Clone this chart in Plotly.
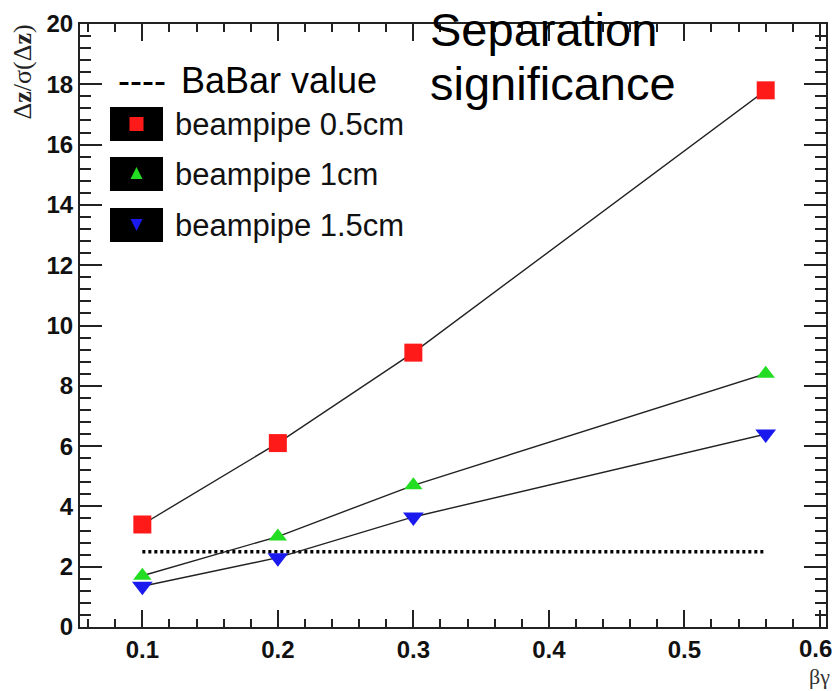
import plotly.graph_objects as go

# beta*gamma values and separation significance for each beampipe radius
beta_gamma = [0.1, 0.2, 0.3, 0.56]
sig_05cm = [3.4, 6.1, 9.1, 17.8]
sig_1cm = [1.7, 3.0, 4.7, 8.4]
sig_15cm = [1.35, 2.3, 3.65, 6.4]

# reference level
babar_x = [0.1, 0.56]
babar_value = [2.5, 2.5]

# x tick positions and labels (the last one is drawn separately so it stays inside the page)
x_tickvals = [0.1, 0.2, 0.3, 0.4, 0.5, 0.6]
x_ticktext = ["0.1", "0.2", "0.3", "0.4", "0.5", ""]
x_last_label = "0.6"

series_names = ["beampipe 0.5cm", "beampipe 1cm", "beampipe 1.5cm"]
series_colors = ["#ff1a1a", "#22dd22", "#1a1aee"]
series_symbols = ["square", "triangle-up", "triangle-down"]

W, H = 834, 691
L, R, T, B = 80, 826, 24, 627  # plot area edges in pixels


def px(x):
    return (x - L) / (R - L)


def py(y):
    return (B - y) / (B - T)


fig = go.Figure()

fig.add_trace(go.Scatter(
    x=babar_x, y=babar_value, mode="lines",
    line=dict(color="black", width=3.5, dash="3px,3px"),
    showlegend=False, hoverinfo="skip"))

for name, ys, col, sym, size in zip(series_names, [sig_05cm, sig_1cm, sig_15cm],
                                    series_colors, series_symbols, [18, 16, 18]):
    fig.add_trace(go.Scatter(
        x=beta_gamma, y=ys, mode="lines+markers", name=name,
        line=dict(color="#222222", width=1.4),
        marker=dict(symbol=sym, size=size, color=col, line=dict(width=0)),
        showlegend=False))

axis_font = dict(family="Liberation Sans", size=24, color="#111111", weight="bold")

fig.update_xaxes(
    range=[0.054, 0.6045], tickmode="array", tickvals=x_tickvals, ticktext=x_ticktext,
    ticks="inside", ticklen=17, tickwidth=2, tickcolor="#222",
    showline=True, linewidth=2, linecolor="#222", mirror="ticks",
    showgrid=False, zeroline=False, tickfont=axis_font, automargin=False,
    minor=dict(tick0=0, dtick=0.02, ticks="inside", ticklen=8, tickwidth=1.5, tickcolor="#222"),
)
fig.update_yaxes(
    range=[0, 20], tick0=0, dtick=2,
    ticks="inside", ticklen=22, tickwidth=2, tickcolor="#222",
    showline=True, linewidth=2, linecolor="#222", mirror="ticks",
    showgrid=False, zeroline=False, tickfont=axis_font, automargin=False,
    minor=dict(dtick=0.4, ticks="inside", ticklen=11, tickwidth=1.5, tickcolor="#222"),
)

annotations = []
shapes = []

# last x tick label, nudged left to stay on the page
annotations.append(dict(
    text=x_last_label, x=x_tickvals[-1], xref="x", xshift=-4,
    y=py(648), yref="paper", xanchor="center", yanchor="middle",
    showarrow=False, font=axis_font))

# title
for txt, y in [("Separation", 30), ("significance", 83)]:
    annotations.append(dict(
        text=txt, x=px(428), y=py(y), xref="paper", yref="paper",
        xanchor="left", yanchor="middle", showarrow=False,
        font=dict(family="Liberation Sans", size=47, color="black")))

# axis titles
annotations.append(dict(
    text="Δ<b>z</b>/σ(Δ<b>z</b>)", x=px(22), y=py(23), xref="paper", yref="paper",
    xanchor="center", yanchor="top", textangle=-90, showarrow=False,
    font=dict(family="Liberation Serif", size=26, color="#222")))
annotations.append(dict(
    text="βγ", x=px(832), y=py(676), xref="paper", yref="paper",
    xanchor="right", yanchor="middle", showarrow=False,
    font=dict(family="Liberation Serif", size=22, color="#333")))

# legend
annotations.append(dict(
    text="----", x=px(116), y=py(80), xref="paper", yref="paper",
    xanchor="left", yanchor="middle", showarrow=False,
    font=dict(family="Liberation Sans", size=36, color="black")))
annotations.append(dict(
    text="BaBar value", x=px(179), y=py(80), xref="paper", yref="paper",
    xanchor="left", yanchor="middle", showarrow=False,
    font=dict(family="Liberation Sans", size=36, color="black")))

box_tops = [107, 157, 208]
for name, col, sym, top in zip(series_names, series_colors, series_symbols, box_tops):
    shapes.append(dict(type="rect", xref="paper", yref="paper",
                       x0=px(110), x1=px(163), y0=py(top), y1=py(top + 34),
                       fillcolor="black", line=dict(width=0)))
    cx, cy = 136.5, top + 17
    if sym == "square":
        path = f"M{px(cx-7)},{py(cy-7)} L{px(cx+7)},{py(cy-7)} L{px(cx+7)},{py(cy+7)} L{px(cx-7)},{py(cy+7)} Z"
    elif sym == "triangle-up":
        path = f"M{px(cx)},{py(cy-7)} L{px(cx+6)},{py(cy+5)} L{px(cx-6)},{py(cy+5)} Z"
    else:
        path = f"M{px(cx-6)},{py(cy-6)} L{px(cx+6)},{py(cy-6)} L{px(cx)},{py(cy+6)} Z"
    shapes.append(dict(type="path", xref="paper", yref="paper", path=path,
                       fillcolor=col, line=dict(width=0)))
    annotations.append(dict(
        text=name, x=px(173), y=py(cy), xref="paper", yref="paper",
        xanchor="left", yanchor="middle", showarrow=False,
        font=dict(family="Liberation Sans", size=31, color="#111")))

fig.update_layout(
    width=W, height=H,
    margin=dict(l=L, r=W - R, t=T, b=H - B),
    paper_bgcolor="white", plot_bgcolor="white",
    annotations=annotations, shapes=shapes,
    showlegend=False,
)

fig.write_html("out.html")
